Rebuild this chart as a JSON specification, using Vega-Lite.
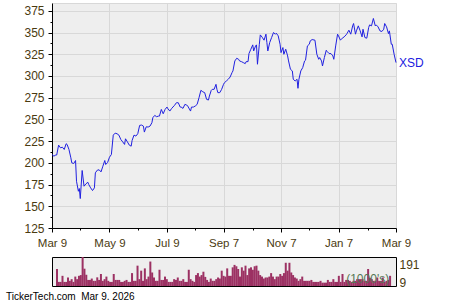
{
"$schema": "https://vega.github.io/schema/vega-lite/v6.json",
"background": "white",
"padding": {"left": 5, "top": 2, "right": 0, "bottom": 0},
"spacing": 29,
"bounds": "flush",
"datasets": {
"price": [
{"date":"2025-03-09","close":209.6},{"date":"2025-03-11","close":207.7},{"date":"2025-03-13","close":209},{"date":"2025-03-14","close":209},{"date":"2025-03-16","close":220.4},{"date":"2025-03-18","close":217.3},{"date":"2025-03-20","close":218},{"date":"2025-03-22","close":215.4},{"date":"2025-03-24","close":222},{"date":"2025-03-25","close":221.2},{"date":"2025-03-27","close":215.4},{"date":"2025-03-29","close":205.8},{"date":"2025-03-30","close":200},
{"date":"2025-04-01","close":199.2},{"date":"2025-04-03","close":202.7},{"date":"2025-04-04","close":178.8},{"date":"2025-04-06","close":167.3},{"date":"2025-04-07","close":170.4},{"date":"2025-04-08","close":158.9},{"date":"2025-04-10","close":191.2},{"date":"2025-04-12","close":173.1},{"date":"2025-04-14","close":175.8},{"date":"2025-04-16","close":177.7},{"date":"2025-04-17","close":175},{"date":"2025-04-19","close":171.2},{"date":"2025-04-21","close":168.1},{"date":"2025-04-23","close":171.2},{"date":"2025-04-24","close":188.5},{"date":"2025-04-26","close":191.5},{"date":"2025-04-28","close":192},{"date":"2025-04-30","close":189.6},
{"date":"2025-05-02","close":196.2},{"date":"2025-05-04","close":202.7},{"date":"2025-05-05","close":198.1},{"date":"2025-05-07","close":200.4},{"date":"2025-05-09","close":206.5},{"date":"2025-05-11","close":209.6},{"date":"2025-05-13","close":231.9},{"date":"2025-05-15","close":234.2},{"date":"2025-05-17","close":233.5},{"date":"2025-05-19","close":231.9},{"date":"2025-05-21","close":226.9},{"date":"2025-05-23","close":224.2},{"date":"2025-05-25","close":221.2},{"date":"2025-05-26","close":227.7},{"date":"2025-05-28","close":224.2},{"date":"2025-05-30","close":220.4},
{"date":"2025-06-01","close":219.2},{"date":"2025-06-02","close":225.8},{"date":"2025-06-04","close":231.9},{"date":"2025-06-06","close":230.8},{"date":"2025-06-08","close":233.5},{"date":"2025-06-10","close":243.1},{"date":"2025-06-12","close":243.5},{"date":"2025-06-14","close":242.3},{"date":"2025-06-15","close":235.4},{"date":"2025-06-17","close":241.5},{"date":"2025-06-19","close":241.2},{"date":"2025-06-21","close":242.3},{"date":"2025-06-23","close":246.2},{"date":"2025-06-24","close":252},{"date":"2025-06-26","close":254.6},{"date":"2025-06-28","close":253.1},{"date":"2025-06-30","close":253.8},
{"date":"2025-07-01","close":253.8},{"date":"2025-07-03","close":261.5},{"date":"2025-07-05","close":256.5},{"date":"2025-07-07","close":261.5},{"date":"2025-07-09","close":264.2},{"date":"2025-07-10","close":262.3},{"date":"2025-07-12","close":259.6},{"date":"2025-07-14","close":262.7},{"date":"2025-07-17","close":266.2},{"date":"2025-07-19","close":269.2},{"date":"2025-07-21","close":269.2},{"date":"2025-07-23","close":264.2},{"date":"2025-07-24","close":264.2},{"date":"2025-07-26","close":262.7},{"date":"2025-07-28","close":267.3},{"date":"2025-07-30","close":266.5},{"date":"2025-07-31","close":265.4},
{"date":"2025-08-03","close":259.6},{"date":"2025-08-04","close":264.2},{"date":"2025-08-06","close":264.2},{"date":"2025-08-08","close":265.4},{"date":"2025-08-10","close":267.3},{"date":"2025-08-12","close":275},{"date":"2025-08-14","close":283.5},{"date":"2025-08-16","close":281.8},{"date":"2025-08-18","close":280.8},{"date":"2025-08-20","close":273.1},{"date":"2025-08-22","close":272.3},{"date":"2025-08-23","close":276.9},{"date":"2025-08-25","close":283.5},{"date":"2025-08-26","close":284.6},{"date":"2025-08-28","close":284.6},{"date":"2025-08-30","close":290.4},{"date":"2025-08-31","close":284.6},
{"date":"2025-09-01","close":280.8},{"date":"2025-09-03","close":280.8},{"date":"2025-09-05","close":284.6},{"date":"2025-09-07","close":290.4},{"date":"2025-09-08","close":292.3},{"date":"2025-09-10","close":294.2},{"date":"2025-09-12","close":296.2},{"date":"2025-09-14","close":298.8},{"date":"2025-09-16","close":303.8},{"date":"2025-09-17","close":305.8},{"date":"2025-09-19","close":317.3},{"date":"2025-09-21","close":320.4},{"date":"2025-09-23","close":319.2},{"date":"2025-09-24","close":317.3},{"date":"2025-09-26","close":316.5},{"date":"2025-09-28","close":315.4},{"date":"2025-09-30","close":314.2},
{"date":"2025-10-01","close":316.5},{"date":"2025-10-03","close":316.5},{"date":"2025-10-04","close":325.8},{"date":"2025-10-06","close":330.8},{"date":"2025-10-08","close":335.8},{"date":"2025-10-09","close":328.8},{"date":"2025-10-11","close":334.6},{"date":"2025-10-12","close":335.8},{"date":"2025-10-13","close":313.5},{"date":"2025-10-15","close":336.5},{"date":"2025-10-16","close":347.3},{"date":"2025-10-18","close":344.6},{"date":"2025-10-20","close":341.2},{"date":"2025-10-22","close":348.1},{"date":"2025-10-23","close":338.5},{"date":"2025-10-24","close":328.8},{"date":"2025-10-26","close":338.5},{"date":"2025-10-28","close":344.2},{"date":"2025-10-30","close":350},
{"date":"2025-11-01","close":348.1},{"date":"2025-11-02","close":349.2},{"date":"2025-11-04","close":346.2},{"date":"2025-11-06","close":336.5},{"date":"2025-11-07","close":326.9},{"date":"2025-11-09","close":332.7},{"date":"2025-11-10","close":325},{"date":"2025-11-12","close":330.8},{"date":"2025-11-14","close":323.1},{"date":"2025-11-15","close":317.3},{"date":"2025-11-17","close":307.7},{"date":"2025-11-19","close":305.8},{"date":"2025-11-20","close":296.2},{"date":"2025-11-22","close":294.2},{"date":"2025-11-24","close":296.2},{"date":"2025-11-25","close":285.8},{"date":"2025-11-26","close":296.2},{"date":"2025-11-28","close":305.8},{"date":"2025-11-30","close":309.6},
{"date":"2025-12-02","close":317.3},{"date":"2025-12-03","close":318.1},{"date":"2025-12-05","close":334.6},{"date":"2025-12-07","close":336.5},{"date":"2025-12-08","close":340.4},{"date":"2025-12-10","close":341.9},{"date":"2025-12-13","close":341.2},{"date":"2025-12-15","close":325},{"date":"2025-12-17","close":319.2},{"date":"2025-12-18","close":321.2},{"date":"2025-12-20","close":317.3},{"date":"2025-12-21","close":311.5},{"date":"2025-12-23","close":321.2},{"date":"2025-12-25","close":329.6},{"date":"2025-12-26","close":328.1},{"date":"2025-12-28","close":325.8},{"date":"2025-12-30","close":325.8},
{"date":"2026-01-01","close":323.1},{"date":"2026-01-02","close":319.2},{"date":"2026-01-04","close":334.6},{"date":"2026-01-06","close":348.1},{"date":"2026-01-07","close":346.2},{"date":"2026-01-09","close":341.2},{"date":"2026-01-11","close":343.5},{"date":"2026-01-13","close":345},{"date":"2026-01-15","close":347.3},{"date":"2026-01-16","close":348.8},{"date":"2026-01-18","close":352.7},{"date":"2026-01-20","close":348.1},{"date":"2026-01-22","close":357.7},{"date":"2026-01-23","close":360.4},{"date":"2026-01-25","close":348.1},{"date":"2026-01-26","close":351.9},{"date":"2026-01-28","close":357.7},{"date":"2026-01-30","close":351.9},
{"date":"2026-02-01","close":345},{"date":"2026-02-02","close":353.8},{"date":"2026-02-04","close":344.2},{"date":"2026-02-06","close":343.5},{"date":"2026-02-08","close":355.8},{"date":"2026-02-09","close":358.8},{"date":"2026-02-11","close":357.7},{"date":"2026-02-13","close":366.2},{"date":"2026-02-15","close":357.7},{"date":"2026-02-16","close":358.8},{"date":"2026-02-18","close":356.5},{"date":"2026-02-20","close":351.9},{"date":"2026-02-22","close":351.2},{"date":"2026-02-24","close":353.8},{"date":"2026-02-25","close":360.4},{"date":"2026-02-27","close":356.5},
{"date":"2026-03-01","close":348.8},{"date":"2026-03-02","close":351.9},{"date":"2026-03-04","close":336.5},{"date":"2026-03-05","close":336.5},{"date":"2026-03-07","close":325},{"date":"2026-03-09","close":315.4}
],
"volume": [
{"date":"2025-03-09","volume":112},{"date":"2025-03-11","volume":27},{"date":"2025-03-13","volume":27},{"date":"2025-03-15","volume":67},{"date":"2025-03-17","volume":27},{"date":"2025-03-19","volume":27},{"date":"2025-03-21","volume":56},{"date":"2025-03-23","volume":34},{"date":"2025-03-25","volume":45},{"date":"2025-03-27","volume":27},{"date":"2025-03-29","volume":62},{"date":"2025-03-31","volume":45},
{"date":"2025-04-02","volume":67},{"date":"2025-04-04","volume":72},{"date":"2025-04-06","volume":191},{"date":"2025-04-08","volume":114},{"date":"2025-04-10","volume":74},{"date":"2025-04-12","volume":40},{"date":"2025-04-14","volume":40},{"date":"2025-04-16","volume":49},{"date":"2025-04-18","volume":34},{"date":"2025-04-20","volume":34},{"date":"2025-04-22","volume":57},{"date":"2025-04-24","volume":40},{"date":"2025-04-26","volume":79},{"date":"2025-04-28","volume":34},{"date":"2025-04-30","volume":45},
{"date":"2025-05-02","volume":62},{"date":"2025-05-04","volume":34},{"date":"2025-05-06","volume":27},{"date":"2025-05-08","volume":27},{"date":"2025-05-10","volume":79},{"date":"2025-05-12","volume":40},{"date":"2025-05-14","volume":40},{"date":"2025-05-16","volume":40},{"date":"2025-05-18","volume":27},{"date":"2025-05-20","volume":27},{"date":"2025-05-22","volume":34},{"date":"2025-05-24","volume":40},{"date":"2025-05-26","volume":27},{"date":"2025-05-28","volume":27},{"date":"2025-05-30","volume":85},
{"date":"2025-06-01","volume":34},{"date":"2025-06-03","volume":34},{"date":"2025-06-05","volume":134},{"date":"2025-06-07","volume":45},{"date":"2025-06-09","volume":101},{"date":"2025-06-11","volume":34},{"date":"2025-06-13","volume":116},{"date":"2025-06-15","volume":45},{"date":"2025-06-17","volume":62},{"date":"2025-06-19","volume":161},{"date":"2025-06-21","volume":89},{"date":"2025-06-23","volume":56},{"date":"2025-06-25","volume":34},{"date":"2025-06-27","volume":34},{"date":"2025-06-29","volume":107},
{"date":"2025-07-01","volume":40},{"date":"2025-07-03","volume":40},{"date":"2025-07-05","volume":62},{"date":"2025-07-07","volume":45},{"date":"2025-07-09","volume":27},{"date":"2025-07-11","volume":27},{"date":"2025-07-13","volume":27},{"date":"2025-07-15","volume":45},{"date":"2025-07-17","volume":40},{"date":"2025-07-19","volume":56},{"date":"2025-07-21","volume":34},{"date":"2025-07-23","volume":34},{"date":"2025-07-25","volume":45},{"date":"2025-07-27","volume":27},{"date":"2025-07-29","volume":27},{"date":"2025-07-31","volume":107},
{"date":"2025-08-02","volume":45},{"date":"2025-08-04","volume":34},{"date":"2025-08-06","volume":27},{"date":"2025-08-08","volume":72},{"date":"2025-08-10","volume":85},{"date":"2025-08-12","volume":62},{"date":"2025-08-14","volume":72},{"date":"2025-08-16","volume":94},{"date":"2025-08-18","volume":60},{"date":"2025-08-20","volume":40},{"date":"2025-08-22","volume":27},{"date":"2025-08-24","volume":49},{"date":"2025-08-26","volume":34},{"date":"2025-08-28","volume":34},{"date":"2025-08-30","volume":45},
{"date":"2025-09-01","volume":56},{"date":"2025-09-03","volume":49},{"date":"2025-09-05","volume":101},{"date":"2025-09-07","volume":67},{"date":"2025-09-09","volume":62},{"date":"2025-09-11","volume":116},{"date":"2025-09-13","volume":67},{"date":"2025-09-15","volume":67},{"date":"2025-09-17","volume":123},{"date":"2025-09-19","volume":139},{"date":"2025-09-21","volume":130},{"date":"2025-09-23","volume":112},{"date":"2025-09-25","volume":62},{"date":"2025-09-27","volume":123},{"date":"2025-09-29","volume":101},
{"date":"2025-10-01","volume":134},{"date":"2025-10-03","volume":72},{"date":"2025-10-05","volume":116},{"date":"2025-10-07","volume":123},{"date":"2025-10-09","volume":107},{"date":"2025-10-11","volume":130},{"date":"2025-10-13","volume":134},{"date":"2025-10-15","volume":101},{"date":"2025-10-17","volume":72},{"date":"2025-10-19","volume":62},{"date":"2025-10-21","volume":49},{"date":"2025-10-23","volume":56},{"date":"2025-10-25","volume":56},{"date":"2025-10-27","volume":62},{"date":"2025-10-29","volume":85},{"date":"2025-10-31","volume":62},
{"date":"2025-11-02","volume":45},{"date":"2025-11-04","volume":62},{"date":"2025-11-06","volume":62},{"date":"2025-11-08","volume":79},{"date":"2025-11-10","volume":67},{"date":"2025-11-12","volume":85},{"date":"2025-11-14","volume":153},{"date":"2025-11-16","volume":101},{"date":"2025-11-18","volume":153},{"date":"2025-11-20","volume":89},{"date":"2025-11-22","volume":72},{"date":"2025-11-24","volume":56},{"date":"2025-11-26","volume":49},{"date":"2025-11-28","volume":34},{"date":"2025-11-30","volume":45},
{"date":"2025-12-02","volume":62},{"date":"2025-12-04","volume":34},{"date":"2025-12-06","volume":34},{"date":"2025-12-08","volume":34},{"date":"2025-12-10","volume":34},{"date":"2025-12-12","volume":40},{"date":"2025-12-14","volume":27},{"date":"2025-12-16","volume":27},{"date":"2025-12-18","volume":27},{"date":"2025-12-20","volume":27},{"date":"2025-12-22","volume":34},{"date":"2025-12-24","volume":22},{"date":"2025-12-26","volume":22},{"date":"2025-12-28","volume":22},{"date":"2025-12-30","volume":40},
{"date":"2026-01-01","volume":27},{"date":"2026-01-03","volume":27},{"date":"2026-01-05","volume":45},{"date":"2026-01-07","volume":27},{"date":"2026-01-09","volume":27},{"date":"2026-01-11","volume":67},{"date":"2026-01-13","volume":27},{"date":"2026-01-15","volume":79},{"date":"2026-01-17","volume":27},{"date":"2026-01-19","volume":40},{"date":"2026-01-21","volume":40},{"date":"2026-01-23","volume":34},{"date":"2026-01-25","volume":27},{"date":"2026-01-27","volume":34},{"date":"2026-01-29","volume":34},{"date":"2026-01-31","volume":45},
{"date":"2026-02-02","volume":45},{"date":"2026-02-04","volume":45},{"date":"2026-02-06","volume":45},{"date":"2026-02-08","volume":34},{"date":"2026-02-10","volume":34},{"date":"2026-02-12","volume":112},{"date":"2026-02-14","volume":54},{"date":"2026-02-16","volume":45},{"date":"2026-02-18","volume":34},{"date":"2026-02-20","volume":34},{"date":"2026-02-22","volume":56},{"date":"2026-02-24","volume":34},{"date":"2026-02-26","volume":34},{"date":"2026-02-28","volume":56},
{"date":"2026-03-02","volume":27},{"date":"2026-03-04","volume":34},{"date":"2026-03-06","volume":40},{"date":"2026-03-08","volume":67}
]
},
"vconcat": [
{
"width": 344, "height": 225,
"view": {"fill": "#eeeeee", "stroke": "#d8d8d8"},
"data": {"name": "price"},
"encoding": {
"x": {"field": "date", "type": "temporal",
"scale": {"type": "utc", "domain": [{"year":2025,"month":3,"date":9,"utc":true},{"year":2026,"month":3,"date":9,"utc":true}]},
"axis": {"title": null,
"values": [{"year":2025,"month":3,"date":9,"utc":true},{"year":2025,"month":4,"date":8,"utc":true},{"year":2025,"month":5,"date":9,"utc":true},{"year":2025,"month":6,"date":8,"utc":true},{"year":2025,"month":7,"date":9,"utc":true},{"year":2025,"month":8,"date":8,"utc":true},{"year":2025,"month":9,"date":7,"utc":true},{"year":2025,"month":10,"date":8,"utc":true},{"year":2025,"month":11,"date":7,"utc":true},{"year":2025,"month":12,"date":7,"utc":true},{"year":2026,"month":1,"date":7,"utc":true},{"year":2026,"month":2,"date":7,"utc":true},{"year":2026,"month":3,"date":9,"utc":true}],
"labelExpr": "utcmonth(datum.value) % 2 == 0 ? utcFormat(datum.value, '%b %-d') : ''",
"tickSize": {"condition": {"test": "utcmonth(datum.value) % 2 == 0", "value": 4}, "value": 2},
"gridOpacity": {"condition": {"test": "utcmonth(datum.value) % 2 == 0", "value": 1}, "value": 0},
"grid": true, "labelOverlap": false, "labelFlush": false, "labelBound": false,
"labelPadding": 5, "labelFontSize": 11.5}},
"y": {"field": "close", "type": "quantitative",
"scale": {"domain": [125, 384], "nice": false, "zero": false},
"axis": {"title": null,
"values": [125,137.5,150,162.5,175,187.5,200,212.5,225,237.5,250,262.5,275,287.5,300,312.5,325,337.5,350,362.5,375],
"labelExpr": "datum.value % 25 == 0 ? datum.label : ''",
"tickSize": {"condition": {"test": "datum.value % 25 == 0", "value": 4}, "value": 2},
"gridOpacity": {"condition": {"test": "datum.value % 25 == 0", "value": 1}, "value": 0},
"grid": true, "labelOverlap": false, "labelFlush": false, "labelBound": false,
"labelPadding": 4, "labelFontSize": 12}}
},
"layer": [
{"mark": {"type": "line", "color": "#2020e0", "strokeWidth": 1}},
{"transform": [{"window": [{"op": "row_number", "as": "rn"}], "sort": [{"field": "date", "order": "descending"}]}, {"filter": "datum.rn == 1"}],
"mark": {"type": "text", "align": "left", "baseline": "middle", "dx": 3, "fontSize": 12, "color": "#2020e0"},
"encoding": {"text": {"value": "XSD"}}}
]
},
{
"width": 344, "height": 29,
"view": {"fill": "#eeeeee", "stroke": "#000000"},
"title": {"text": "TickerTech.com\u00a0\u00a0Mar 9, 2026", "orient": "bottom", "anchor": "start", "frame": "group", "dx": -46, "offset": 3, "fontSize": 10, "fontWeight": "normal", "color": "#000000", "font": "Liberation Sans"},
"layer": [
{"data": {"name": "volume"},
"mark": {"type": "bar", "size": 2, "color": "#9c3163"},
"encoding": {
"x": {"field": "date", "type": "temporal", "scale": {"type": "utc", "domain": [{"year":2025,"month":3,"date":9,"utc":true},{"year":2026,"month":3,"date":9,"utc":true}]}, "axis": null},
"y": {"field": "volume", "type": "quantitative", "scale": {"domain": [0, 191], "nice": false},
"axis": {"orient": "right", "title": null, "values": [9, 191], "ticks": false, "tickSize": 0, "domain": false, "grid": false, "labelPadding": 3, "labelFontSize": 12,
"labelOffset": {"condition": {"test": "datum.value > 100", "value": 7}, "value": -2}}}}},
{"data": {"values": [{"label": "(1000's)"}]},
"mark": {"type": "text", "align": "right", "baseline": "bottom", "fontSize": 12, "color": "#557755"},
"encoding": {
"x": {"datum": {"year":2026,"month":3,"date":7,"utc":true}, "type": "temporal"},
"y": {"datum": 0, "type": "quantitative"},
"text": {"field": "label"}}}
]
}
],
"config": {
"font": "Liberation Sans",
"axis": {"labelFont": "Liberation Sans", "labelColor": "#4a3a10", "domainColor": "#000000", "tickColor": "#000000", "gridColor": "#d8d8d8", "domainWidth": 1, "tickWidth": 1},
"text": {"font": "Liberation Sans"}
}
}
